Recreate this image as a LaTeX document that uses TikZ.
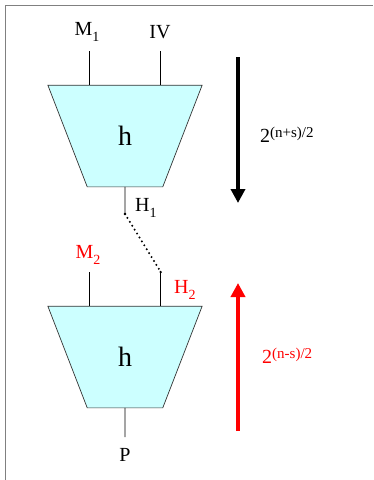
\documentclass[tikz,border=0pt]{standalone}
\usepackage{fontspec}
\setmainfont{Liberation Serif}
\usetikzlibrary{arrows.meta,shapes.geometric}
\definecolor{boxfill}{HTML}{CCFFFF}
\definecolor{framegray}{HTML}{808080}
\definecolor{edge}{HTML}{333333}
\newcommand\lowidx[1]{\raisebox{-6pt}{\fontsize{14}{14}\selectfont #1}}
\newcommand\highidx[1]{\raisebox{5.5pt}{\fontsize{15}{15}\selectfont #1}}

\begin{document}
\begin{tikzpicture}[x=1pt,y=-1pt,
  lbl/.style={font=\fontsize{20}{20}\selectfont,inner sep=0pt},
  hashbox/.style={trapezium,shape border rotate=180,trapezium stretches=true,
    trapezium angle=69.4,minimum width=154.6pt,minimum height=101.7pt,
    fill=boxfill,draw=edge,line width=.7pt,inner sep=0pt,outer sep=0pt,
    font=\fontsize{28}{28}\selectfont},
  wire/.style={line width=.9pt},
  flow/.style={line width=4pt,-{Triangle[width=14pt,length=14pt]}}]
\useasboundingbox (0,0) rectangle (373,480);
\draw[framegray,line width=1.5pt] (5.5,480) -- (5.5,5.5) -- (373,5.5);

% first compression call
\node[hashbox] (h1) at (125,136) {h};
\node[lbl] (m1) at (87,32) {M\lowidx{1}};
\node[lbl] (iv) at (160,32) {IV};
\coordinate (m1in) at (89,51);
\coordinate (ivin) at (160.7,51);
\draw[wire] (m1in) -- (m1in |- h1.north);
\draw[wire] (ivin) -- (ivin |- h1.north);
\coordinate (h1out) at (125,214);
\draw[wire] (h1.south) -- (h1out);
\fill (h1out) circle (1.3pt);
\node[lbl,anchor=west] (h1lbl) at (135,208) {H\lowidx{1}};

% link to the second call
\coordinate (h2in) at (160.7,272);
\draw[wire,dash pattern=on 0pt off 4.6pt,line cap=round,line width=2.2pt] (h1out) -- (h2in);
\fill (h2in) circle (1.3pt);

% second compression call
\node[hashbox] (h2) at (125,357) {h};
\node[lbl,red] (m2) at (88,255) {M\lowidx{2}};
\coordinate (m2in) at (89,272);
\draw[wire] (m2in) -- (m2in |- h2.north);
\draw[wire] (h2in) -- (h2in |- h2.north);
\node[lbl,red,anchor=west] (h2lbl) at (174,290) {H\lowidx{2}};
\coordinate (pout) at (125,437);
\draw[wire] (h2.south) -- (pout);
\node[lbl] (p) at (125,455) {P};

% work in each direction
\coordinate (fwdtop) at (238,57);
\coordinate (fwdend) at (238,203);
\draw[flow] (fwdtop) -- (fwdend);
\node[lbl,anchor=west] (fwdlbl) at (260,135) {2\highidx{(n+s)/2}};
\coordinate (bwdtop) at (238,431);
\coordinate (bwdend) at (238,283);
\draw[flow,red] (bwdtop) -- (bwdend);
\node[lbl,red,anchor=west] (bwdlbl) at (262,356) {2\highidx{(n-s)/2}};
\end{tikzpicture}
\end{document}
